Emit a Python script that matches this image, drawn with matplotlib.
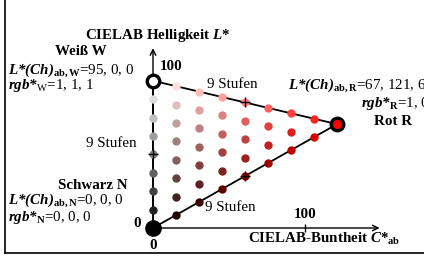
import matplotlib
matplotlib.use("Agg")
import matplotlib.pyplot as plt
from matplotlib.lines import Line2D

plt.rcParams['font.family'] = ['Liberation Serif', 'DejaVu Serif']
plt.rcParams['mathtext.fontset'] = 'custom'
plt.rcParams['mathtext.rm'] = 'Liberation Serif'
plt.rcParams['mathtext.it'] = 'Liberation Serif:italic'
plt.rcParams['mathtext.bf'] = 'Liberation Serif:bold'
plt.rcParams['mathtext.bfit'] = 'Liberation Serif:bold:italic'

# corner colours in CIELAB (L*, C*ab) and rgb*
L_W, C_W = 95, 0
L_N, C_N = 0, 0
L_R, C_R = 67, 121
rgb_W = (1, 1, 1)
rgb_N = (0, 0, 0)
rgb_R = (1, 0, 0)
steps = 8  # 9 Stufen

fig = plt.figure(figsize=(4.24, 2.58), dpi=100)
ax = fig.add_axes([0, 0, 1, 1])
ax.set_xlim(-100.6, 178.2)
ax.set_ylim(-19.35, 147.1)
ax.axis('off')

# frame (left + bottom)
fig.add_artist(Line2D([5 / 424, 5 / 424], [0.02, 1], color='black', lw=1.2))
fig.add_artist(Line2D([5 / 424, 1], [1 - 253 / 258, 1 - 253 / 258], color='black', lw=1.2))

# axes arrows
ax.annotate('', xy=(0, 116), xytext=(0, 0),
            arrowprops=dict(arrowstyle='->', lw=1.0, color='black', shrinkA=0, shrinkB=0))
ax.annotate('', xy=(149, 0), xytext=(0, 0),
            arrowprops=dict(arrowstyle='->', lw=1.0, color='black', shrinkA=0, shrinkB=0))
ax.plot([100], [0], marker='|', ms=6, color='black', mew=1)

# triangle edges
ax.plot([C_N, C_W], [L_N, L_W], color='black', lw=1.3)
ax.plot([C_W, C_R], [L_W, L_R], color='black', lw=1.3)
ax.plot([C_N, C_R], [L_N, L_R], color='black', lw=1.3)

# grid of mixed colours
for k in range(steps + 1):
    for m in range(steps + 1 - k):
        a, b = k / steps, m / steps
        n = 1 - a - b
        if a == 1 or b == 1 or n == 1:
            continue
        L = a * L_W + b * L_R + n * L_N
        C = a * C_W + b * C_R + n * C_N
        col = tuple(a * w + b * r + n * s for w, r, s in zip(rgb_W, rgb_R, rgb_N))
        ax.plot(C, L, 'o', ms=5, color=col, mec=col, zorder=3)

# midpoint ticks
h = steps // 2 / steps
for (c, l) in [((C_N + C_W) * h, (L_N + L_W) * h),
               ((C_N + C_R) * h, (L_N + L_R) * h),
               ((C_W + C_R) * h, (L_W + L_R) * h)]:
    ax.plot(c, l, '+', ms=7, mew=1, color='black', zorder=4)

# corners
ax.plot(C_W, L_W, 'o', ms=9, mfc=rgb_W, mec='black', mew=2.4, zorder=5)
ax.plot(C_R, L_R, 'o', ms=9, mfc=rgb_R, mec='black', mew=2.4, zorder=5)
ax.plot(C_N, L_N, 'o', ms=11, mfc=rgb_N, mec='black', mew=1, zorder=5)

fs = 10.8
ax.text(3, 124.5, r'CIELAB Helligkeit $\mathbfit{L}$*', fontsize=fs, fontweight='bold',
        ha='center', va='center')
ax.text(4.6, 104, '100', fontsize=fs, fontweight='bold', ha='left', va='center')
ax.text(-47.3, 113.7, 'Weiß W', fontsize=fs, fontweight='bold', ha='center', va='center')
ax.text(-95.3, 99.4, r'$\mathbfit{L{*}(Ch)}_{\mathbf{ab,W}}$=95, 0, 0', fontsize=fs,
        ha='left', va='baseline')
ax.text(-95.3, 89.5, r'$\mathbfit{rgb{*}}_{\mathrm{W}}$=1, 1, 1', fontsize=fs,
        ha='left', va='baseline')
ax.text(35.5, 92.9, '9 Stufen', fontsize=fs, ha='left', va='center')

ax.text(88.8, 89.7, r'$\mathbfit{L{*}(Ch)}_{\mathbf{ab,R}}$=67, 121, 60', fontsize=fs,
        ha='left', va='baseline', clip_on=False)
ax.text(136.8, 78, r'$\mathbfit{rgb{*}}_{\mathbf{R}}$=1, 0, 0', fontsize=fs,
        ha='left', va='baseline')
ax.text(158, 68.4, 'Rot R', fontsize=fs, fontweight='bold', ha='center', va='center')

ax.text(-10.5, 54.6, '9 Stufen', fontsize=fs, ha='right', va='center')
ax.text(-39.4, 27.7, 'Schwarz N', fontsize=fs, fontweight='bold', ha='center', va='center')
ax.text(-95.3, 15.5, r'$\mathbfit{L{*}(Ch)}_{\mathbf{ab,N}}$=0, 0, 0', fontsize=fs,
        ha='left', va='baseline')
ax.text(-95.3, 4.7, r'$\mathbfit{rgb{*}}_{\mathbf{N}}$=0, 0, 0', fontsize=fs,
        ha='left', va='baseline')
ax.text(-10.2, 2.6, '0', fontsize=fs, fontweight='bold', ha='center', va='center')
ax.text(0, -11, '0', fontsize=fs, fontweight='bold', ha='center', va='center')
ax.text(34.2, 13.5, '9 Stufen', fontsize=fs, ha='left', va='center')
ax.text(100, 8.4, '100', fontsize=fs, fontweight='bold', ha='center', va='center')
ax.text(62.5, -7.1, r'CIELAB-Buntheit $\mathbfit{C}$*$_{\mathbf{ab}}$', fontsize=fs,
        fontweight='bold', ha='left', va='center')

fig.savefig('out.png', dpi=100)
